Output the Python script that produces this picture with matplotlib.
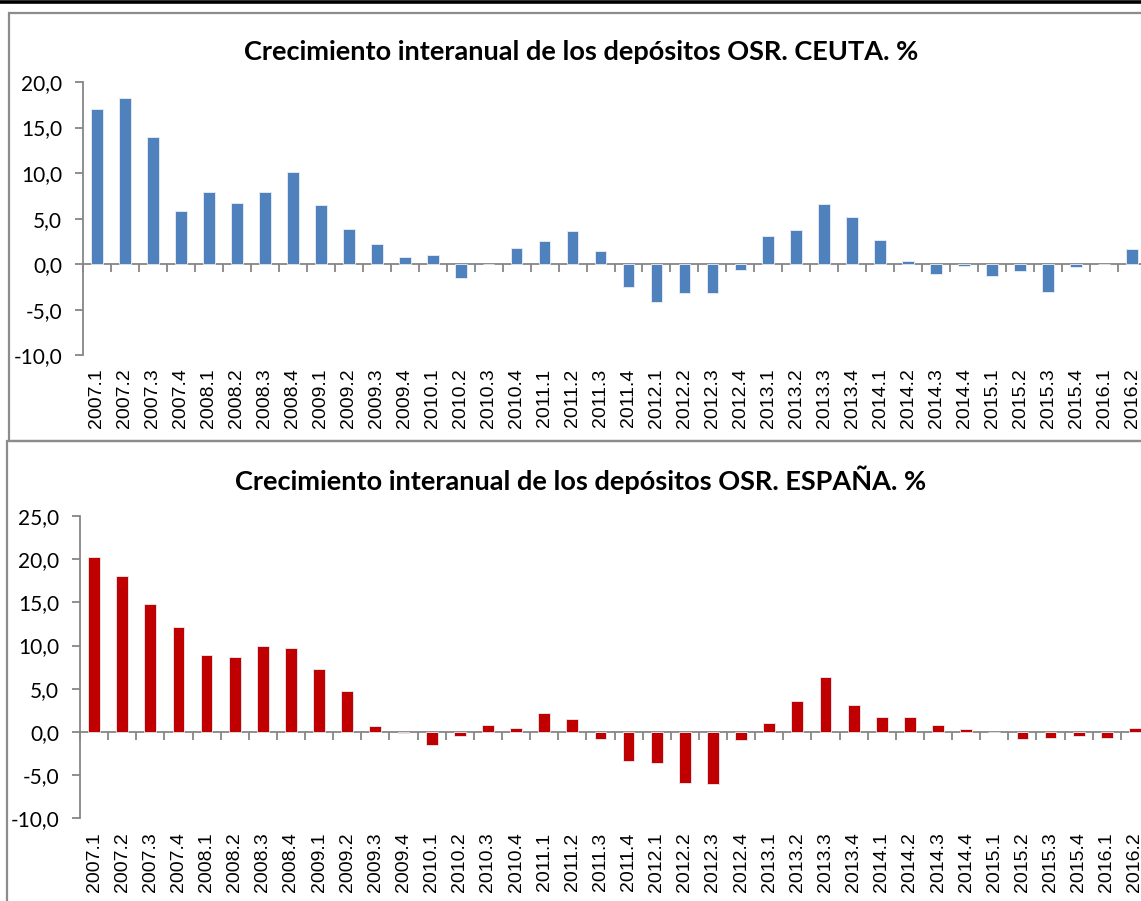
import matplotlib
matplotlib.use("Agg")
import matplotlib.pyplot as plt
import matplotlib.transforms as mtransforms
from matplotlib.patches import Rectangle
from matplotlib.lines import Line2D
import numpy as np

# Quarters shown on the x axis
quarters = ['2007.1', '2007.2', '2007.3', '2007.4', '2008.1', '2008.2', '2008.3', '2008.4',
            '2009.1', '2009.2', '2009.3', '2009.4', '2010.1', '2010.2', '2010.3', '2010.4',
            '2011.1', '2011.2', '2011.3', '2011.4', '2012.1', '2012.2', '2012.3', '2012.4',
            '2013.1', '2013.2', '2013.3', '2013.4', '2014.1', '2014.2', '2014.3', '2014.4',
            '2015.1', '2015.2', '2015.3', '2015.4', '2016.1', '2016.2']

# Year-on-year growth of OSR deposits, Ceuta (%)
ceuta = [17.0, 18.2, 14.0, 5.8, 7.9, 6.7, 7.9, 10.1,
         6.5, 3.9, 2.2, 0.8, 1.0, -1.5, 0.0, 1.8,
         2.6, 3.6, 1.5, -2.5, -4.2, -3.2, -3.2, -0.6,
         3.1, 3.8, 6.6, 5.2, 2.7, 0.3, -1.1, -0.2,
         -1.3, -0.7, -3.0, -0.35, 0.0, 1.7]

# Year-on-year growth of OSR deposits, Spain (%)
espana = [20.2, 18.0, 14.8, 12.1, 8.9, 8.66, 9.97, 9.66,
          7.34, 4.7, 0.7, -0.15, -1.55, -0.46, 0.8, 0.5,
          2.2, 1.47, -0.8, -3.4, -3.6, -5.9, -6.0, -0.93,
          1.08, 3.55, 6.4, 3.1, 1.78, 1.78, 0.8, 0.39,
          0.0, -0.8, -0.73, -0.42, -0.7, 0.42]

ceuta_yticks = [-10, -5, 0, 5, 10, 15, 20]
espana_yticks = [-10, -5, 0, 5, 10, 15, 20, 25]

AXIS_GRAY = '#868686'
FONT_NUM = 'Lato'


def draw_panel(ax, values, color, yticks, title, title_y, label_gap):
    n = len(values)
    x = np.arange(n)
    ax.bar(x, values, width=0.42, color=color, edgecolor='#e8eef6', linewidth=0.6, zorder=3)
    ax.set_xlim(-0.5, n - 0.5)
    ax.set_ylim(yticks[0], yticks[-1])

    for side in ['top', 'right']:
        ax.spines[side].set_visible(False)
    ax.spines['left'].set_color(AXIS_GRAY)
    ax.spines['left'].set_linewidth(1.3)
    ax.spines['bottom'].set_color(AXIS_GRAY)
    ax.spines['bottom'].set_linewidth(1.3)
    ax.spines['bottom'].set_position(('data', 0))

    ax.set_yticks(yticks)
    ax.set_yticklabels([f'{v:.1f}'.replace('.', ',') for v in yticks],
                       fontsize=15, family=FONT_NUM)
    ax.tick_params(axis='y', direction='out', length=6, width=1.3, color=AXIS_GRAY, pad=9)

    # category boundary ticks on the zero line, labels at the bottom
    ax.set_xticks(np.arange(n + 1) - 0.5)
    ax.set_xticklabels([])
    ax.tick_params(axis='x', direction='out', length=6, width=1.3, color=AXIS_GRAY)
    trans = mtransforms.blended_transform_factory(ax.transData, ax.transAxes)
    bottom_off = -label_gap / ax.get_window_extent().height
    for i, lab in enumerate(quarters):
        ax.text(i, bottom_off, lab, rotation=90, ha='center', va='top',
                fontsize=14, family='Liberation Sans', transform=trans, clip_on=False)

    ax.figure.text(0.509, title_y, title, ha='center', va='center',
                   fontsize=19.5, fontweight='bold', family='Lato')


fig = plt.figure(figsize=(11.41, 9.01), dpi=100)
W, H = 1141.0, 901.0

# panel frames and top rule
fig.add_artist(Line2D([0, 1], [1 - 1.7 / H, 1 - 1.7 / H], color='black', lw=2.6,
                      transform=fig.transFigure))
fig.add_artist(Rectangle((8.5 / W, 1 - 441 / H), 1.2, (441 - 13) / H, fill=False,
                         edgecolor='#8c8c8c', lw=1.6, transform=fig.transFigure))
fig.add_artist(Rectangle((7 / W, -0.1), 1.2, (1 - 441 / H) + 0.1, fill=False,
                         edgecolor='#8c8c8c', lw=1.6, transform=fig.transFigure))

ax1 = fig.add_axes([83 / W, 1 - 355.3 / H, (1146 - 83) / W, (355.3 - 82) / H])
ax2 = fig.add_axes([80 / W, 1 - 818.3 / H, (1149 - 80) / W, (818.3 - 516) / H])

draw_panel(ax1, ceuta, '#4f81bd', ceuta_yticks,
           'Crecimiento interanual de los depósitos OSR. CEUTA. %', 1 - 52 / H, 13)
draw_panel(ax2, espana, '#c00000', espana_yticks,
           'Crecimiento interanual de los depósitos OSR. ESPAÑA. %', 1 - 480 / H, 14)

fig.savefig('out.png', dpi=100)
